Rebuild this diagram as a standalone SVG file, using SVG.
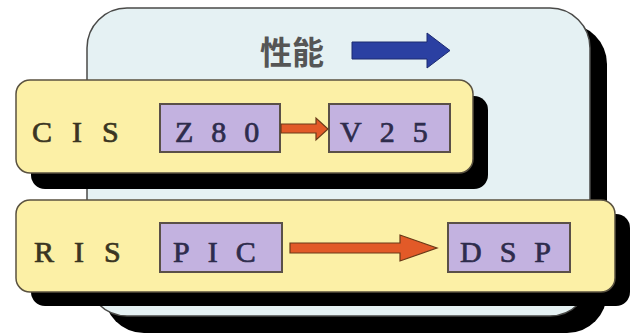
<svg xmlns="http://www.w3.org/2000/svg" width="631" height="336" viewBox="0 0 631 336">
  <style>
    .shadow { fill: #000000; }
    .panel { fill: #e5f1f3; stroke: #4a4a48; stroke-width: 1.5; }
    .band { fill: #fcf0a6; stroke: #5a5240; stroke-width: 1.5; }
    .chip { fill: #c3b2e0; stroke: #5a5048; stroke-width: 2; }
    .lbl { font-family: "Liberation Serif", "Times New Roman", serif; font-size: 30px; fill: #3a3522; stroke: #3a3522; stroke-width: 0.7; letter-spacing: 20px; }
    .chiplbl { font-family: "Liberation Serif", "Times New Roman", serif; font-size: 30px; fill: #2e2c4c; stroke: #2e2c4c; stroke-width: 0.7; letter-spacing: 18px; }
    .orange { fill: #e25a28; stroke: #6a3a18; stroke-width: 1.2; }
    .blue { fill: #2b40a2; stroke: #1c2a70; stroke-width: 1; }
    .cjk { font-family: "Noto Sans CJK SC", "Noto Sans CJK JP", sans-serif; font-size: 32px; font-weight: 700; fill: #555555; }
  </style>

  <g id="panel">
    <rect class="shadow" x="104" y="24" width="503" height="309" rx="40"/>
    <rect class="panel" x="87" y="8" width="503" height="308" rx="40"/>
  </g>

  <g id="legend">
    <text class="cjk" x="260" y="64">性能</text>
    <polygon class="blue" points="352,42 427,42 427,33 450,50.5 427,68 427,59 352,59"/>
  </g>

  <g id="cis">
    <rect class="shadow" x="31" y="96" width="457" height="93" rx="14"/>
    <rect class="band" x="16" y="80" width="457" height="93" rx="14"/>
    <text class="lbl" x="32" y="142">CIS</text>
  </g>

  <g id="z80">
    <rect class="chip" x="160" y="104" width="120" height="48"/>
    <text class="chiplbl" x="175" y="142">Z80</text>
  </g>

  <g id="v25">
    <rect class="chip" x="329" y="104" width="121" height="48"/>
    <text class="chiplbl" x="340" y="142">V25</text>
  </g>

  <g id="ris">
    <rect class="shadow" x="31" y="214" width="599" height="92" rx="14"/>
    <rect class="band" x="16" y="200" width="599" height="92" rx="14"/>
    <text class="lbl" x="34" y="262">RIS</text>
  </g>

  <g id="pic">
    <rect class="chip" x="160" y="223" width="122" height="49"/>
    <text class="chiplbl" x="173" y="262">PIC</text>
  </g>

  <g id="dsp">
    <rect class="chip" x="448" y="223" width="122" height="49"/>
    <text class="chiplbl" x="460" y="262">DSP</text>
  </g>

  <g id="connectors">
    <polygon class="orange" points="281,124 316,124 316,118 328,129 316,140 316,133 281,133"/>
    <polygon class="orange" points="290,243 400,243 400,235 437,248 400,261 400,253 290,253"/>
  </g>
</svg>
